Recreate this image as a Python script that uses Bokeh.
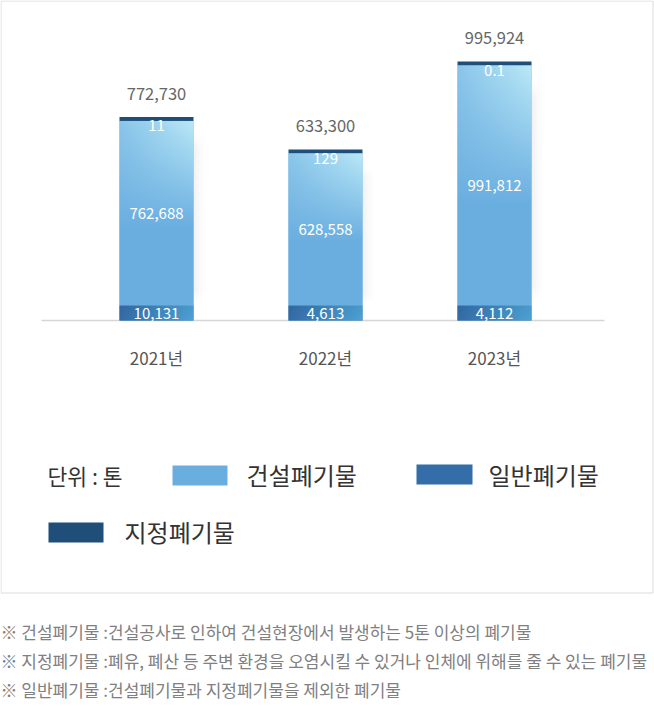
import numpy as np
from bokeh.plotting import figure
from bokeh.models import Range1d
from bokeh.core.properties import value
from bokeh.embed import file_html
from bokeh.resources import INLINE

# ---------------- data ----------------
years = ["2021년", "2022년", "2023년"]
construction = [762688, 628558, 991812]   # 건설폐기물
general = [10131, 4613, 4112]              # 일반폐기물
designated = [11, 129, 0.1]                # 지정폐기물
totals = [772730, 633300, 995924]

series_names = ["건설폐기물", "일반폐기물", "지정폐기물"]
unit_text = "단위 : 톤"
notes = [
    "※ 건설폐기물 :건설공사로 인하여 건설현장에서 발생하는 5톤 이상의 폐기물",
    "※ 지정폐기물 :폐유, 폐산 등 주변 환경을 오염시킬 수 있거나 인체에 위해를 줄 수 있는 폐기물",
    "※ 일반폐기물 :건설폐기물과 지정폐기물을 제외한 폐기물",
]

# ---------------- style / layout ----------------
W, H = 654, 706
FONT = value("Noto Sans CJK KR")
C_CONS = "#6aaee0"
C_CONS_LIGHT = (186, 232, 247)
C_GEN = "#3872ad"
C_GEN_L = (52, 108, 168)
C_GEN_R = (76, 161, 211)
C_DES = "#1f4e79"

BASE_PX = 320          # baseline position from top (px)
U = 4132.5             # tons per pixel
MIN_GEN = 15 * U       # minimum visible thickness of small segments
MIN_DES = 4 * U
BAR_W = 74 / 169

x = list(range(len(years)))
g_disp = [max(v, MIN_GEN) for v in general]
c_bot = g_disp
c_top = [b + v for b, v in zip(c_bot, construction)]
d_top = [t + max(v, MIN_DES) for t, v in zip(c_top, designated)]

p = figure(width=W, height=H, output_backend="svg", toolbar_location=None,
           x_range=Range1d(-156 / 169, (W - 156) / 169),
           y_range=Range1d(-(H - BASE_PX) * U, BASE_PX * U),
           x_axis_type=None, y_axis_type=None, min_border=0)
p.outline_line_color = None
p.background_fill_color = "white"
p.border_fill_color = "white"
p.extra_x_ranges = {"px": Range1d(0, W)}
p.extra_y_ranges = {"px": Range1d(H, 0)}

PX = dict(x_range_name="px", y_range_name="px")

# border box and baseline
p.quad(left=[0.5], right=[652.5], top=[0.5], bottom=[592.5], fill_color=None,
       line_color="#dcdcdc", line_width=1, **PX)
p.segment(x0=[41], y0=[320], x1=[604], y1=[320], line_color="#d6d6d6", line_width=1.5, **PX)


def pack(col):
    col = np.clip(col.round(), 0, 255).astype(np.uint32)
    return ((col[..., 3] << 24) | (col[..., 2] << 16) | (col[..., 1] << 8) | col[..., 0]).astype(np.uint32)


# soft shadow to the right of each bar
sx = np.linspace(0, 1, 16)[None, :]
sy = np.linspace(0, 1, 60)[:, None]
alpha = 20 * (1 - sx) ** 1.5 * np.clip(np.minimum(sy / 0.08, (1 - sy) / 0.08), 0, 1)
shadow = np.zeros((60, 16, 4))
shadow[..., 0:3] = 90
shadow[..., 3] = alpha
img_shadow = pack(shadow)
SH_W = 14 / 169
for i in x:
    p.image_rgba(image=[img_shadow], x=i + BAR_W / 2, y=c_bot[i],
                 dw=SH_W, dh=construction[i] - 12 * U)

# bars
p.vbar(x=x, width=BAR_W, bottom=0, top=g_disp, fill_color=C_GEN, line_color=None)
p.vbar(x=x, width=BAR_W, bottom=c_bot, top=c_top, fill_color=C_CONS, line_color=None)
p.vbar(x=x, width=BAR_W, bottom=c_top, top=d_top, fill_color=C_DES, line_color=None)

# gradient overlays
nx, ny = 74, 240
u = np.linspace(0, 1, nx)[None, :]
v = np.linspace(0, 1, ny)[:, None]
yn = np.clip((v - 0.42) / 0.58, 0, 1)
f = yn * (0.4 + 0.6 * u)
base = np.array([0x6a, 0xae, 0xe0], dtype=float)
light = np.array(C_CONS_LIGHT, dtype=float)
col = np.zeros((ny, nx, 4))
col[..., :3] = base[None, None, :] * (1 - f[..., None]) + light[None, None, :] * f[..., None]
col[..., 3] = 255
img_cons = pack(col)

ng = 20
ug = np.linspace(0, 1, nx)[None, :].repeat(ng, 0)
vg = np.linspace(0, 1, ng)[:, None]
gl = np.array(C_GEN_L, dtype=float)
gr = np.array(C_GEN_R, dtype=float)
colg = np.zeros((ng, nx, 4))
colg[..., :3] = (gl[None, None, :] * (1 - ug[..., None]) + gr[None, None, :] * ug[..., None]) * (1 - 0.04 * vg[..., None])
colg[..., 3] = 255
img_gen = pack(colg)

for i in x:
    p.image_rgba(image=[img_cons], x=i - BAR_W / 2, y=c_bot[i], dw=BAR_W, dh=construction[i])
    p.image_rgba(image=[img_gen], x=i - BAR_W / 2, y=0, dw=BAR_W, dh=g_disp[i])

# value labels
p.text(x=x, y=d_top, text=[f"{v:,}" for v in totals], y_offset=-23,
       text_align="center", text_baseline="middle", text_color="#666666",
       text_font=FONT, text_font_size="16.5px")
p.text(x=x, y=d_top, text=[f"{v:g}" for v in designated], y_offset=9,
       text_align="center", text_baseline="middle", text_color="white",
       text_font=FONT, text_font_size="15px")
p.text(x=x, y=[b + v / 2 for b, v in zip(c_bot, construction)],
       text=[f"{v:,}" for v in construction],
       text_align="center", text_baseline="middle", text_color="white",
       text_font=FONT, text_font_size="15px")
p.text(x=x, y=[g / 2 for g in g_disp], text=[f"{v:,}" for v in general],
       text_align="center", text_baseline="middle", text_color="white",
       text_font=FONT, text_font_size="15px")

# category labels
p.text(x=x, y=[357] * len(x), text=years, y_range_name="px",
       text_align="center", text_baseline="middle", text_color="#555555",
       text_font=FONT, text_font_size="17px")

# legend
p.text(x=[47], y=[475], text=[unit_text], text_align="left", text_baseline="middle",
       text_color="#333333", text_font=FONT, text_font_size="21.5px", **PX)
p.quad(left=[172, 416, 48], right=[227, 472, 103], top=[465, 464, 522], bottom=[485, 484, 542],
       fill_color=[C_CONS, "#336ea8", C_DES], line_color=None, **PX)
p.text(x=[246, 488, 124], y=[474, 474, 531], text=series_names, text_align="left",
       text_baseline="middle", text_color="#333333", text_font=FONT,
       text_font_size="24px", **PX)

# footnotes
p.text(x=[0, 0, 0], y=[631, 660, 689], text=notes, text_align="left",
       text_baseline="middle", text_color="#808080", text_font=FONT,
       text_font_size="17px", **PX)

html = file_html(p, INLINE)
html = html.replace("<body>", '<body style="margin:0;overflow:hidden">', 1)
open("out.html", "w").write(html)
